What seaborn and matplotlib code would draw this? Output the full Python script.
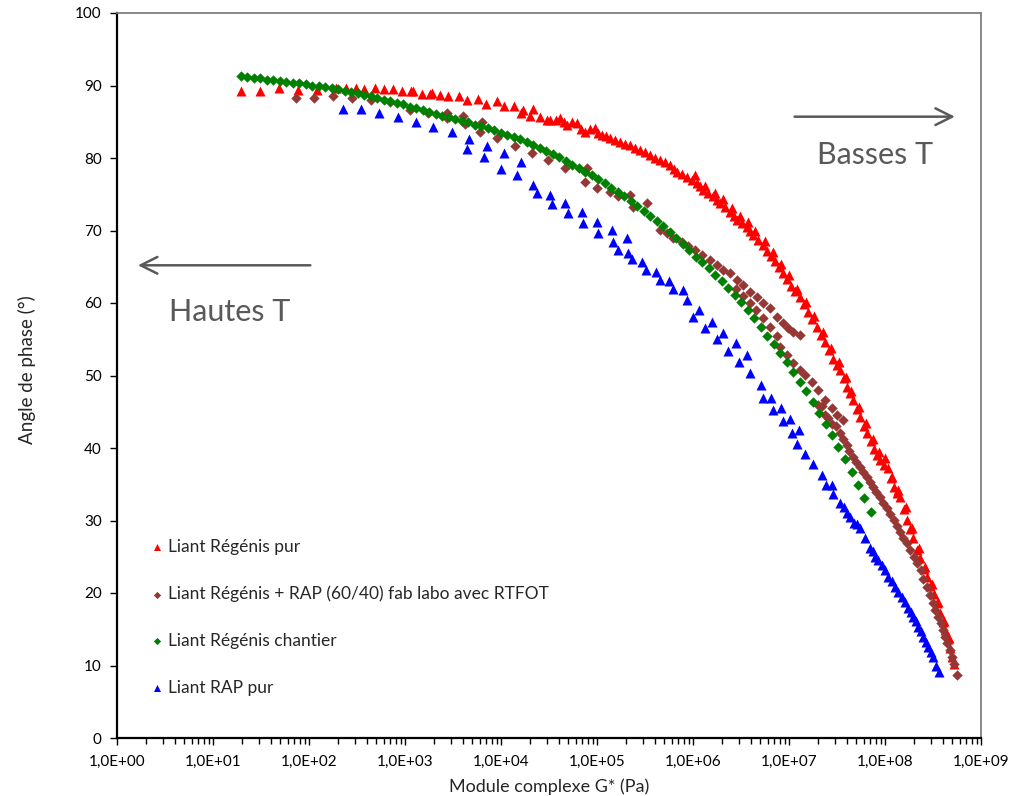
import numpy as np
import pandas as pd
import matplotlib
matplotlib.use("Agg")
import matplotlib.pyplot as plt
from matplotlib.ticker import LogLocator, FuncFormatter, NullFormatter
import seaborn as sns

# ---------------- data (log10 of G* in Pa, phase angle in degrees) ----------------
red_logg = [1.29, 1.49, 1.69, 1.89, 2.08, 2.28, 2.39, 2.49, 2.57, 2.69, 2.78, 2.875, 2.97, 3.06, 3.08,
            3.18, 3.26, 3.28, 3.36, 3.45, 3.56, 3.65, 3.76, 3.84, 3.96, 4.03, 4.135, 4.21, 4.23, 4.30,
            4.33, 4.41, 4.48, 4.51, 4.57, 4.61, 4.66, 4.69, 4.74, 4.79, 4.83, 4.875, 4.93, 4.98, 5.01,
            5.05, 5.09, 5.135, 5.19, 5.24, 5.29, 5.34, 5.40, 5.45, 5.50, 5.55, 5.60, 5.66, 5.71, 5.76,
            5.80, 5.83, 5.885, 5.94, 5.99, 6.04, 6.07, 6.10, 6.16, 6.21, 6.25, 6.28, 6.33, 6.39, 6.43,
            6.46, 6.51, 6.56, 6.59, 6.625, 6.68, 6.73, 6.77, 6.81, 6.85, 6.90, 6.94, 6.98, 7.02, 7.06,
            7.115, 7.16, 7.20, 7.24, 7.29, 7.33, 7.375, 7.42, 7.46, 7.50, 7.53, 7.57, 7.60, 7.635, 7.67,
            7.71, 7.74, 7.78, 7.81, 7.85, 7.885, 7.92, 7.95, 7.99, 8.03, 8.06, 8.09, 8.125, 8.16, 8.20,
            8.23, 8.26, 8.29, 8.33, 8.36, 8.41, 8.44, 8.47, 8.51, 8.54, 8.57, 8.60, 8.625, 8.66, 8.68,
            8.70, 8.72,
            6.02, 6.13, 6.23, 6.31, 6.41, 6.49, 6.57, 6.65, 6.75, 6.83, 6.92, 7.00, 7.08, 7.18, 7.26,
            7.35, 7.44, 7.52, 7.59, 7.65, 7.73, 7.80, 7.87, 7.94, 8.00, 8.07, 8.14, 8.22, 8.28, 8.35,
            8.42, 8.49, 8.55, 8.61, 8.67]
red_angle = [89.3, 89.3, 89.6, 89.4, 89.4, 89.6, 89.7, 89.7, 89.5, 89.6, 89.5, 89.5, 89.3, 89.2, 89.3,
             88.8, 88.8, 89.0, 88.7, 88.5, 88.5, 88.0, 88.1, 87.5, 87.9, 87.2, 87.2, 86.2, 86.6, 85.8,
             86.7, 85.6, 85.2, 85.2, 85.3, 85.5, 84.9, 84.6, 84.9, 84.8, 84.0, 83.6, 84.0, 84.1, 83.4,
             83.2, 83.0, 82.7, 82.5, 82.2, 82.0, 81.8, 81.4, 81.1, 80.8, 80.4, 80.0, 79.7, 79.4, 79.0,
             78.5, 78.1, 77.8, 77.4, 77.0, 76.6, 76.1, 75.6, 75.2, 74.7, 74.2, 73.8, 73.2, 72.6, 72.0,
             71.4, 71.0, 70.5, 69.9, 69.4, 68.7, 68.0, 67.2, 66.5, 65.8, 65.0, 64.1, 63.3, 62.4, 61.6,
             60.8, 59.8, 58.8, 57.8, 56.7, 55.6, 54.6, 53.5, 52.3, 51.4, 50.8, 49.6, 48.4, 47.6, 46.6,
             45.4, 44.3, 43.1, 42.1, 40.9, 39.8, 39.0, 38.3, 37.6, 37.2, 35.8, 34.6, 33.8, 33.2, 31.6,
             30.1, 28.8, 27.6, 25.9, 24.8, 23.3, 22.2, 21.0, 19.8, 18.6, 17.3, 16.0, 14.9, 13.6, 12.4,
             11.2, 10.2,
             77.6, 76.2, 75.2, 74.3, 73.1, 72.0, 71.2, 69.9, 68.5, 67.0, 65.4, 63.8, 62.0, 60.2, 58.2,
             56.0, 53.8, 51.8, 49.8, 47.9, 45.6, 43.4, 41.2, 39.4, 38.6, 36.0, 34.2, 31.8, 29.0, 26.2,
             23.6, 21.2, 18.8, 16.2, 13.8]

brown_logg = [1.865, 2.05, 2.25, 2.45, 2.65, 2.84, 3.05, 3.24, 3.44, 3.625, 3.78, 3.96, 4.15, 4.32, 4.49,
              3.44, 3.60, 3.80,
              4.67, 4.875, 4.90, 5.00, 5.135, 5.22, 5.34, 5.375, 5.52,
              5.66, 5.73, 5.79, 5.885, 5.95, 6.02, 6.09, 6.18, 6.25, 6.31, 6.385, 6.46, 6.52, 6.59,
              6.67, 6.73, 6.80, 6.875, 6.94, 6.99, 7.04, 7.115,
              6.45, 6.52, 6.59, 6.66, 6.73, 6.80, 6.87,
              6.91, 6.98, 7.04, 7.115, 7.17, 7.24, 7.30, 7.375, 7.45, 7.50, 7.56,
              7.30, 7.375, 7.45, 7.53, 7.60, 7.67, 7.74, 7.81, 7.875, 7.95, 8.02, 8.09, 8.16, 8.23,
              8.30, 8.37, 8.44, 8.50, 8.55, 8.60, 8.65, 8.70, 8.75,
              7.34, 7.41, 7.49, 7.56, 7.63, 7.70, 7.77, 7.84, 7.91, 7.98, 8.05, 8.12, 8.19, 8.26,
              8.33, 8.40, 8.47, 8.52, 8.58, 8.62, 8.68, 8.72]
brown_angle = [88.3, 88.3, 88.6, 88.3, 88.0, 87.7, 86.6, 86.2, 85.5, 84.7, 83.6, 82.7, 81.7, 80.7, 79.7,
               86.2, 85.8, 85.0,
               78.6, 76.7, 78.6, 75.8, 75.3, 74.7, 74.9, 73.3, 73.8,
               70.1, 69.7, 68.9, 68.4, 67.8, 67.3, 66.6, 65.9, 65.2, 64.6, 64.1, 63.2, 62.5, 61.5,
               60.8, 60.0, 59.3, 58.1, 57.2, 56.6, 56.0, 55.6,
               62.0, 61.0, 60.0, 59.0, 57.9, 56.7, 55.4,
               54.0, 52.8, 51.7, 50.8, 50.1, 49.1, 48.0, 46.6, 45.5, 44.6, 43.9,
               46.0, 44.6, 43.3, 42.1, 40.4, 38.8, 37.4, 36.0, 34.6, 33.2, 31.7, 30.1, 28.4, 26.9,
               25.0, 23.2, 20.8, 18.6, 16.7, 14.9, 13.1, 11.2, 8.7,
               45.8, 44.2, 43.0, 41.2, 39.6, 38.1, 36.7, 35.3, 33.9, 32.4, 30.9, 29.2, 27.6, 26.0,
               24.1, 22.0, 19.7, 17.6, 15.8, 14.0, 12.1, 10.2]

green_logg = [1.29, 1.35, 1.43, 1.49, 1.56, 1.625, 1.70, 1.76, 1.83, 1.90, 1.97, 2.03, 2.10, 2.17, 2.24,
              2.30, 2.375, 2.44, 2.51, 2.57, 2.65, 2.71, 2.78, 2.84, 2.92, 2.98, 3.05, 3.115, 3.19, 3.25,
              3.32, 3.385, 3.46, 3.52, 3.59, 3.66, 3.73, 3.79, 3.865, 3.93, 4.00, 4.06, 4.135, 4.20, 4.27,
              4.33, 4.41, 4.47, 4.54, 4.60, 4.68, 4.74, 4.81, 4.875, 4.95, 5.01, 5.08, 5.15, 5.22, 5.28,
              5.35, 5.42, 5.49, 5.55, 5.625, 5.69, 5.76, 5.82, 5.90, 5.96, 6.03, 6.09, 6.17, 6.23, 6.30,
              6.365, 6.44, 6.50, 6.57, 6.635, 6.71, 6.77, 6.84, 6.91, 6.98, 7.04, 7.115, 7.18, 7.25, 7.31,
              7.385, 7.45, 7.51, 7.58, 7.656, 7.72, 7.78, 7.85]
green_angle = [91.3, 91.2, 91.1, 91.0, 90.8, 90.7, 90.6, 90.5, 90.4, 90.3, 90.2, 90.0, 89.9, 89.8, 89.7,
               89.5, 89.3, 89.1, 88.9, 88.7, 88.5, 88.3, 88.0, 87.8, 87.6, 87.4, 87.1, 86.9, 86.6, 86.4,
               86.1, 85.8, 85.6, 85.4, 85.1, 84.9, 84.6, 84.4, 84.1, 83.8, 83.5, 83.2, 82.9, 82.6, 82.2,
               81.8, 81.4, 81.0, 80.6, 80.1, 79.6, 79.1, 78.6, 78.1, 77.6, 77.1, 76.5, 75.9, 75.3, 74.7,
               74.1, 73.4, 72.7, 72.0, 71.3, 70.6, 69.8, 69.0, 68.1, 67.3, 66.4, 65.6, 64.8, 63.9, 63.0,
               62.1, 61.1, 60.1, 59.0, 57.9, 56.7, 55.5, 54.3, 53.1, 51.8, 50.5, 49.1, 47.8, 46.3, 44.8,
               43.3, 41.8, 40.2, 38.5, 36.7, 34.9, 33.1, 31.2]

blue_logg = [2.354, 2.542, 2.729, 2.927, 3.115, 3.29, 3.49, 3.667, 3.646, 3.854, 3.823, 4.03, 4.00, 4.21,
             4.167, 4.333, 4.375, 4.51, 4.53, 4.667, 4.70, 4.84, 4.854, 5.00, 5.01, 5.156, 5.167, 5.3125,
             5.22, 5.323, 5.365, 5.47, 5.51, 5.615, 5.656, 5.75, 5.79, 5.896, 5.94, 6.0625, 6.00, 6.198,
             6.125, 6.3125, 6.25, 6.448, 6.365, 6.5625, 6.479, 6.594, 6.708, 6.729, 6.8125, 6.833, 6.917,
             6.9375, 7.01, 7.03, 7.104, 7.083, 7.167, 7.25, 7.34, 7.385, 7.448, 7.458, 7.53, 7.604, 7.677,
             7.74, 7.79, 7.84, 7.896, 7.97, 8.03, 8.10, 8.18, 8.24, 8.29, 8.34, 8.40, 8.45, 8.50, 8.53,
             8.56,
             7.57, 7.64, 7.71, 7.87, 7.93, 8.00, 8.07, 8.14, 8.21, 8.27, 8.32, 8.37, 8.43, 8.48]
blue_angle = [86.8, 86.7, 86.2, 85.7, 85.0, 84.3, 83.6, 82.6, 81.2, 81.7, 80.2, 80.7, 78.5, 79.5,
              77.7, 76.3, 75.2, 74.9, 73.7, 73.8, 72.4, 72.6, 71.0, 71.2, 69.7, 70.1, 68.4, 69.0,
              67.3, 66.9, 66.1, 65.7, 64.6, 64.3, 63.2, 63.0, 61.9, 61.8, 60.4, 59.0, 58.1, 57.4,
              56.6, 55.9, 55.0, 54.5, 53.4, 52.8, 51.9, 50.3, 48.7, 46.9, 46.9, 45.2, 45.5,
              43.7, 44.0, 42.1, 42.5, 40.6, 39.2, 37.8, 36.3, 34.9, 34.9, 33.6, 32.4, 31.0, 29.7,
              29.0, 27.6, 26.2, 25.0, 23.9, 22.2, 20.8, 19.4, 17.9, 16.7, 15.3, 13.9, 12.6, 11.2, 10.0,
              9.1,
              31.9, 30.5, 29.5, 25.8, 24.6, 23.2, 21.6, 20.2, 18.7, 17.4, 16.1, 14.7, 13.3, 11.9]

series_names = ["Liant Régénis pur",
                "Liant Régénis + RAP (60/40) fab labo avec RTFOT",
                "Liant Régénis chantier",
                "Liant RAP pur"]
x_tick_exponents = list(range(0, 10))
y_ticks = list(range(0, 101, 10))

# ---------------- styling ----------------
sns.set_theme(style="white")
plt.rcParams["font.family"] = ["Lato", "DejaVu Sans"]

fig = plt.figure(figsize=(10.17, 7.96), dpi=100)
ax = fig.add_axes([117 / 1017, 1 - 738 / 796, 864 / 1017, 725 / 796])

styles = [
    (red_logg, red_angle, "#FF0000", "^", 52),
    (brown_logg, brown_angle, "#953735", "D", 28),
    (green_logg, green_angle, "#008000", "D", 28),
    (blue_logg, blue_angle, "#0000FF", "^", 52),
]
for name, (lg, ang, col, mk, s) in zip(series_names, styles):
    df = pd.DataFrame({"G": np.power(10.0, np.array(lg)), "angle": ang})
    sns.scatterplot(data=df, x="G", y="angle", ax=ax, color=col, marker=mk, s=s,
                    linewidth=0, label=name)

ax.set_xscale("log")
ax.set_xlim(10 ** x_tick_exponents[0], 10 ** x_tick_exponents[-1])
ax.set_ylim(y_ticks[0], y_ticks[-1])
ax.set_xticks([10.0 ** e for e in x_tick_exponents])
ax.xaxis.set_minor_locator(LogLocator(base=10, subs=np.arange(2, 10), numticks=100))
ax.xaxis.set_minor_formatter(NullFormatter())
ax.xaxis.set_major_formatter(FuncFormatter(lambda v, p: f"{v:.1E}".replace(".", ",")))
ax.set_yticks(y_ticks)

ax.tick_params(axis="both", which="major", direction="out", length=5, width=1,
               color="black", labelsize=11, labelcolor="black", pad=6)
ax.tick_params(axis="x", which="minor", direction="out", length=4, width=1, color="black")
ax.tick_params(axis="x", which="major", pad=7)
ax.tick_params(bottom=True, left=True, which="both")
ax.tick_params(axis="y", which="minor", left=False)

for side in ["left", "bottom"]:
    ax.spines[side].set_color("black")
    ax.spines[side].set_linewidth(1.6)
for side in ["top", "right"]:
    ax.spines[side].set_color("#7f7f7f")
    ax.spines[side].set_linewidth(1.3)

ax.set_xlabel("Module complexe G* (Pa)", fontsize=13, labelpad=7)
ax.set_ylabel("Angle de phase (°)", fontsize=13.5)
ax.yaxis.set_label_coords(-0.0943, 0.508)

leg = ax.legend(loc="upper left", bbox_to_anchor=(0.036, 0.275), frameon=False,
                fontsize=12.5, labelspacing=1.78, handlelength=1.0, handletextpad=0.15,
                markerscale=0.7, borderaxespad=0, borderpad=0)

# annotations (arrows + text)
gray = "#595959"
ax.annotate("", xy=(0.021, 0.652), xytext=(0.227, 0.652), xycoords="axes fraction",
            arrowprops=dict(arrowstyle="->,head_length=1.0,head_width=0.5", color=gray, lw=1.8))
ax.text(0.13, 0.588, "Hautes T", transform=ax.transAxes, ha="center", va="center",
        fontsize=22, color=gray)
ax.annotate("", xy=(0.973, 0.857), xytext=(0.781, 0.857), xycoords="axes fraction",
            arrowprops=dict(arrowstyle="->,head_length=1.0,head_width=0.5", color=gray, lw=1.8))
ax.text(0.877, 0.804, "Basses T", transform=ax.transAxes, ha="center", va="center",
        fontsize=22, color=gray)

fig.savefig("out.png", dpi=100)
